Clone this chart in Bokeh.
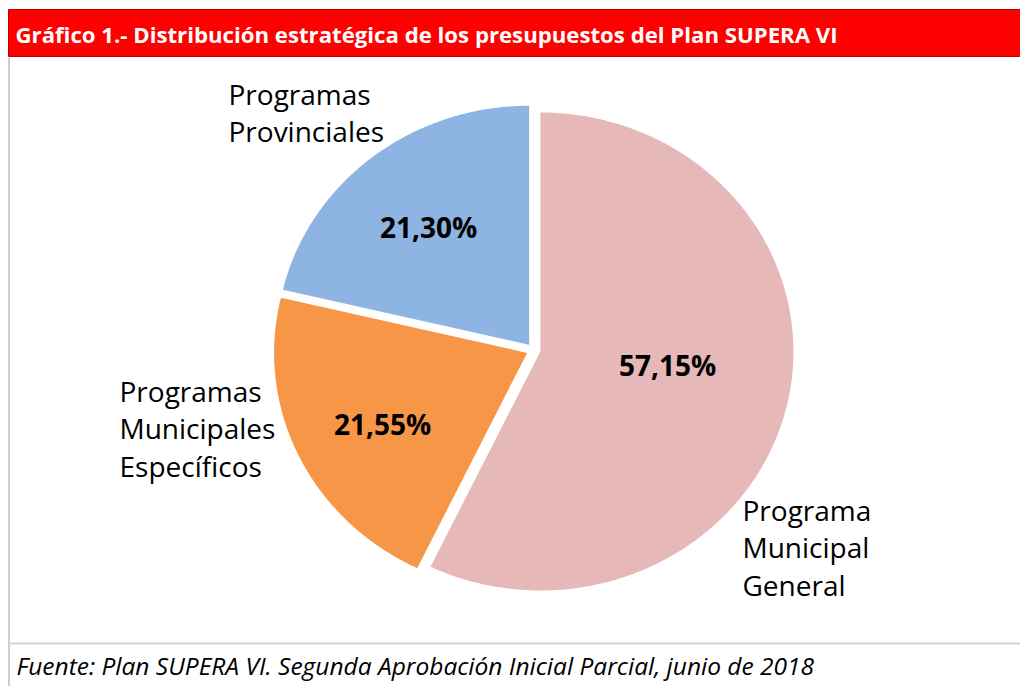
import numpy as np
from bokeh.plotting import figure
from bokeh.models import Range1d
from bokeh.core.properties import value
from bokeh.embed import file_html
from bokeh.resources import INLINE

# ---------------- data ----------------
title = "Gráfico 1.- Distribución estratégica de los presupuestos del Plan SUPERA VI"
source_note = "Fuente: Plan SUPERA VI. Segunda Aprobación Inicial Parcial, junio de 2018"
categories = ["Programa Municipal General",
              "Programas Municipales Específicos",
              "Programas Provinciales"]
category_lines = [["Programa", "Municipal", "General"],
                  ["Programas", "Municipales", "Específicos"],
                  ["Programas", "Provinciales"]]
values = [57.15, 21.55, 21.30]
colors = ["#E6B8B7", "#F79646", "#8DB4E2"]

# ---------------- layout ----------------
W, H = 1020, 686
CX, CY = 533.0, 349.5        # pie centre (page px)
RX, RY = 253.0, 239.0        # pie radii
EXPLODE = 0.028

# label placement (first-line baseline) and percentage placement
label_pos = [(742, 509), (119, 390), (228, 93)]
pct_pos = [(667, 364), (382, 423), (428, 226)]
LINE_STEP = 37.8

p = figure(width=W, height=H, x_range=Range1d(0, W), y_range=Range1d(H, 0),
           output_backend="svg", toolbar_location=None, min_border=0,
           x_axis_location=None, y_axis_location=None)
p.xgrid.visible = False
p.ygrid.visible = False
p.outline_line_color = None
p.background_fill_color = "white"
p.border_fill_color = "white"

# frame decorations
p.quad(left=8, right=W, top=9, bottom=56, fill_color="#FF0000",
       line_color="#C00000", line_width=1)
p.segment(x0=[8.5], y0=[57], x1=[8.5], y1=[H], line_color="#BFBFBF", line_width=1.5)
p.segment(x0=[8], y0=[643], x1=[W], y1=[643], line_color="#D4D4D4", line_width=2)

# pie slices
total = float(sum(values))
fr = np.array(values) / total
ends = np.cumsum(fr) * 2 * np.pi
starts = ends - fr * 2 * np.pi
xs, ys = [], []
for s, e in zip(starts, ends):
    m = 0.5 * (s + e)
    vx = CX + EXPLODE * RX * np.sin(m)
    vy = CY - EXPLODE * RY * np.cos(m)
    t = np.linspace(s, e, 240)
    xs.append([vx] + list(vx + RX * np.sin(t)) + [vx])
    ys.append([vy] + list(vy - RY * np.cos(t)) + [vy])
p.patches(xs=xs, ys=ys, fill_color=colors, line_color=None)

# category labels
lx, ly, lt = [], [], []
for (x, y), lines in zip(label_pos, category_lines):
    for i, line in enumerate(lines):
        lx.append(x)
        ly.append(y + i * LINE_STEP)
        lt.append(line)
p.text(x=lx, y=ly, text=lt, text_font=value("Open Sans"), text_font_size="28px",
       text_color="#000000", text_baseline="alphabetic", text_align="left")

# percentage labels
pct = [("%.2f" % v).replace(".", ",") + "%" for v in values]
p.text(x=[q[0] for q in pct_pos], y=[q[1] for q in pct_pos], text=pct,
       text_font=value("Open Sans"), text_font_size="28px", text_font_style="bold",
       text_color="#000000", text_baseline="alphabetic", text_align="center")

# title and source
p.text(x=[15], y=[34], text=[title], text_font=value("Open Sans"), text_font_size="22.2px",
       text_font_style="bold", text_color="#FFFFFF", text_baseline="alphabetic")
p.text(x=[16], y=[665], text=[source_note], text_font=value("Open Sans"), text_font_size="24.5px",
       text_font_style="italic", text_color="#000000", text_baseline="alphabetic")

open("out.html", "w").write(file_html(p, INLINE))
